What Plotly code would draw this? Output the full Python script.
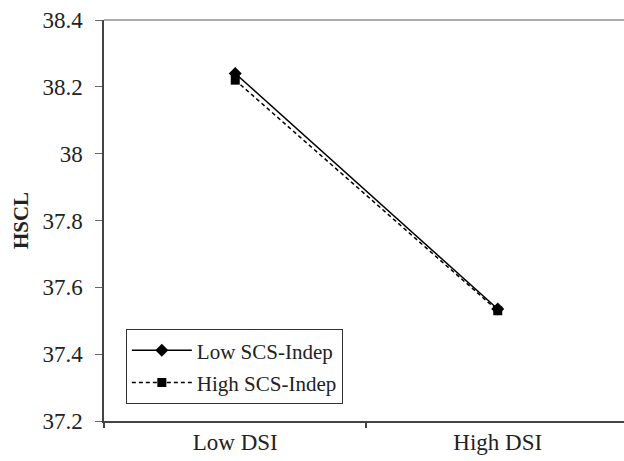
import plotly.graph_objects as go

categories = ["Low DSI", "High DSI"]
low_scs = [38.24, 37.535]
high_scs = [38.22, 37.53]
y_ticks = [37.2, 37.4, 37.6, 37.8, 38, 38.2, 38.4]
y_ticktext = ["37.2", "37.4", "37.6", "37.8", "38", "38.2", "38.4"]

xpos = list(range(len(categories)))
font = "Liberation Serif"

fig = go.Figure()
fig.add_trace(go.Scatter(x=xpos, y=low_scs, mode="lines+markers", name="Low SCS-Indep",
                         legendgroup="a",
                         line=dict(color="black", width=1.5),
                         marker=dict(symbol="diamond", size=10, color="black")))
fig.add_trace(go.Scatter(x=xpos, y=high_scs, mode="lines+markers", name="High SCS-Indep",
                         legendgroup="b",
                         line=dict(color="black", width=1.5, dash="4px,3px"),
                         marker=dict(symbol="square", size=9, color="black")))

fig.update_layout(
    width=624, height=461,
    margin=dict(l=104, r=0, t=20, b=40),
    plot_bgcolor="white", paper_bgcolor="white",
    font=dict(family=font, size=22, color="#222"),
    showlegend=True,
    legend=dict(x=0.042, y=0.229, xanchor="left", yanchor="top",
                bordercolor="#333", borderwidth=1, bgcolor="white",
                font=dict(family=font, size=21, color="#222"),
                tracegroupgap=2, itemwidth=60),
    xaxis=dict(range=[-0.5, 1.481], tickvals=xpos, ticktext=categories,
               ticks="", showgrid=False, zeroline=False, automargin=False,
               tickfont=dict(family=font, size=23, color="#222"),
               showline=True, linecolor="#444", linewidth=1.5,
               minor=dict(tickvals=[-0.5, 0.5], ticks="outside", ticklen=5,
                          tickcolor="#444", tickwidth=1.5, showgrid=False),
               ticklabelstandoff=0),
    yaxis=dict(range=[37.2, 38.4], tickvals=y_ticks, ticktext=y_ticktext,
               ticks="outside", ticklen=7, tickcolor="#666", tickwidth=1,
               showgrid=False, zeroline=False, automargin=False,
               tickfont=dict(family=font, size=23, color="#222"),
               showline=True, linecolor="#444", linewidth=1.5,
               ticklabelstandoff=8,
               title=dict(text="<b>HSCL</b>", font=dict(family=font, size=21, color="#222"),
                          standoff=8)),
)
fig.add_shape(type="line", xref="paper", yref="paper", x0=0, x1=1, y0=1, y1=1,
              line=dict(color="#aaa", width=2))

fig.write_html("out.html", config={"displayModeBar": False},
               post_script="document.body.style.margin='0';")
